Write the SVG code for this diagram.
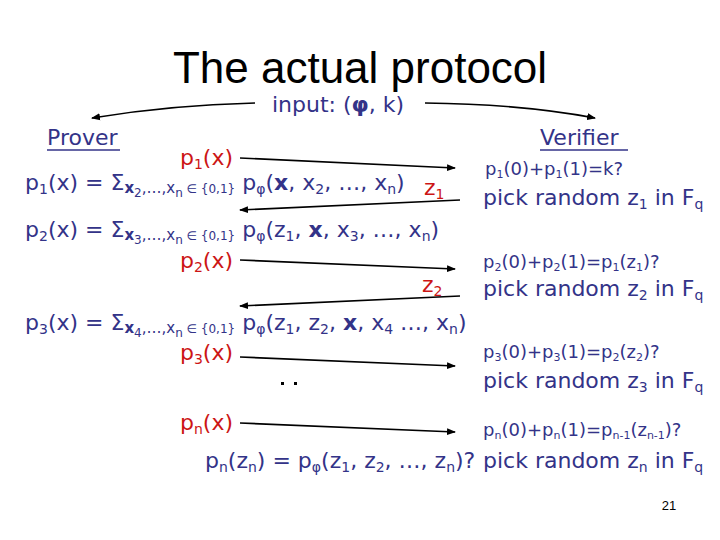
<svg xmlns="http://www.w3.org/2000/svg" width="720" height="540" viewBox="0 0 720 540">
<defs>
<marker id="ah" markerUnits="userSpaceOnUse" markerWidth="9" markerHeight="8" refX="8" refY="4" orient="auto">
<path d="M0,0.5 L9,4 L0,7.5 z" fill="#000"/>
</marker>
<style>
text{font-family:"DejaVu Sans","Open Sans",sans-serif;}
.t{font-family:"Liberation Sans",Arial,sans-serif;font-size:44px;fill:#000;}
.nv{fill:#333388;font-size:22px;}
.rd{fill:#cc1515;font-size:22px;}
.sm{font-size:18px;}
.s{font-size:14px;baseline-shift:-4px;}
.ss{font-size:11px;baseline-shift:-3px;}
.sub{font-size:15px;baseline-shift:-3px;}
.sub2{font-size:12px;baseline-shift:-3px;}
.sub3{font-size:12px;baseline-shift:-7px;}
.b{font-weight:bold;}
.ul{stroke:#333388;stroke-width:1.5;}
.cn{fill:none;stroke:#000;stroke-width:1.6;marker-end:url(#ah);}
.pg{font-family:"Liberation Sans",Arial,sans-serif;font-size:13px;fill:#000;}
</style>
</defs>
<rect width="720" height="540" fill="#fff"/>

<g id="title"><text class="t" x="360" y="83" text-anchor="middle">The actual protocol</text></g>

<g id="input"><text class="nv" x="272" y="112">input: (<tspan class="b">φ</tspan>, k)</text></g>

<g id="prover">
<text class="nv" x="47" y="145">Prover</text>
<line class="ul" x1="47" y1="150" x2="120" y2="150"/>
</g>

<g id="verifier">
<text class="nv" x="540" y="145">Verifier</text>
<line class="ul" x1="540" y1="150" x2="628" y2="150"/>
</g>

<g id="prover-p1">
<text class="nv" x="25" y="190">p<tspan class="s">1</tspan>(x) = Σ<tspan class="sub b">x</tspan><tspan class="sub3">2</tspan><tspan class="sub">,…,x</tspan><tspan class="sub3">n</tspan><tspan class="sub2"> ∈ {0,1}</tspan> p<tspan class="s">φ</tspan>(<tspan class="b">x</tspan>, x<tspan class="s">2</tspan>, …, x<tspan class="s">n</tspan>)</text>
</g>

<g id="prover-p2">
<text class="nv" x="25" y="237">p<tspan class="s">2</tspan>(x) = Σ<tspan class="sub b">x</tspan><tspan class="sub3">3</tspan><tspan class="sub">,…,x</tspan><tspan class="sub3">n</tspan><tspan class="sub2"> ∈ {0,1}</tspan> p<tspan class="s">φ</tspan>(z<tspan class="s">1</tspan>, <tspan class="b">x</tspan>, x<tspan class="s">3</tspan>, …, x<tspan class="s">n</tspan>)</text>
</g>

<g id="prover-p3">
<text class="nv" x="25" y="330">p<tspan class="s">3</tspan>(x) = Σ<tspan class="sub b">x</tspan><tspan class="sub3">4</tspan><tspan class="sub">,…,x</tspan><tspan class="sub3">n</tspan><tspan class="sub2"> ∈ {0,1}</tspan> p<tspan class="s">φ</tspan>(z<tspan class="s">1</tspan>, z<tspan class="s">2</tspan>, <tspan class="b">x</tspan>, x<tspan class="s">4</tspan> …, x<tspan class="s">n</tspan>)</text>
</g>

<g id="prover-final">
<text class="nv" x="205" y="468">p<tspan class="s">n</tspan>(z<tspan class="s">n</tspan>) = p<tspan class="s">φ</tspan>(z<tspan class="s">1</tspan>, z<tspan class="s">2</tspan>, …, z<tspan class="s">n</tspan>)?</text>
</g>

<g id="msg-p1"><text class="rd" x="233" y="165" text-anchor="end">p<tspan class="s">1</tspan>(x)</text></g>
<g id="msg-z1"><text class="rd" x="424" y="195">z<tspan class="s">1</tspan></text></g>
<g id="msg-p2"><text class="rd" x="233" y="268" text-anchor="end">p<tspan class="s">2</tspan>(x)</text></g>
<g id="msg-z2"><text class="rd" x="422" y="292">z<tspan class="s">2</tspan></text></g>
<g id="msg-p3"><text class="rd" x="233" y="360" text-anchor="end">p<tspan class="s">3</tspan>(x)</text></g>
<g id="msg-pn"><text class="rd" x="233" y="430" text-anchor="end">p<tspan class="s">n</tspan>(x)</text></g>

<g id="dots" fill="#000">
<rect x="281" y="382" width="3" height="3"/>
<rect x="294" y="382" width="3" height="3"/>
</g>

<g id="verifier-1">
<text class="nv sm" x="485" y="175">p<tspan class="ss">1</tspan>(0)+p<tspan class="ss">1</tspan>(1)=k?</text>
<text class="nv" x="483" y="205">pick random z<tspan class="s">1</tspan> in F<tspan class="s">q</tspan></text>
</g>
<g id="verifier-2">
<text class="nv sm" x="483" y="268">p<tspan class="ss">2</tspan>(0)+p<tspan class="ss">2</tspan>(1)=p<tspan class="ss">1</tspan>(z<tspan class="ss">1</tspan>)?</text>
<text class="nv" x="483" y="296">pick random z<tspan class="s">2</tspan> in F<tspan class="s">q</tspan></text>
</g>
<g id="verifier-3">
<text class="nv sm" x="483" y="358">p<tspan class="ss">3</tspan>(0)+p<tspan class="ss">3</tspan>(1)=p<tspan class="ss">2</tspan>(z<tspan class="ss">2</tspan>)?</text>
<text class="nv" x="483" y="388">pick random z<tspan class="s">3</tspan> in F<tspan class="s">q</tspan></text>
</g>
<g id="verifier-n">
<text class="nv sm" x="483" y="436">p<tspan class="ss">n</tspan>(0)+p<tspan class="ss">n</tspan>(1)=p<tspan class="ss">n-1</tspan>(z<tspan class="ss">n-1</tspan>)?</text>
<text class="nv" x="483" y="468">pick random z<tspan class="s">n</tspan> in F<tspan class="s">q</tspan></text>
</g>

<g id="page"><text class="pg" x="669" y="510" text-anchor="middle">21</text></g>

<g id="connectors">
<path class="cn" d="M255,103 Q170,105 92,118"/>
<path class="cn" d="M425,103 Q520,104 595,118"/>
<path class="cn" d="M240,158 L455,168"/>
<path class="cn" d="M460,200 L240,210"/>
<path class="cn" d="M240,260 L455,269"/>
<path class="cn" d="M460,296 L240,306"/>
<path class="cn" d="M240,357 L455,366"/>
<path class="cn" d="M240,423 L455,432"/>
</g>
</svg>
